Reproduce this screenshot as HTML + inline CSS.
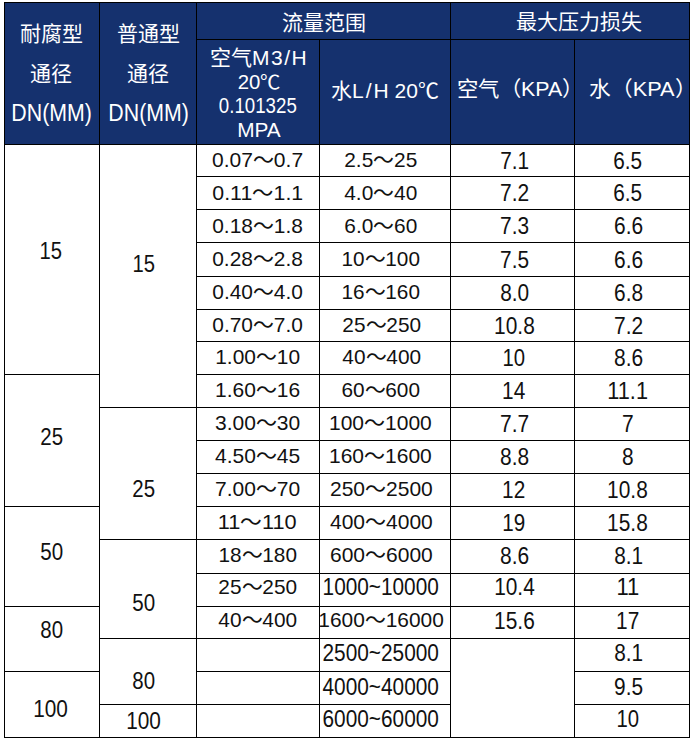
<!DOCTYPE html>
<html lang="zh-CN"><head><meta charset="utf-8"><title>流量范围</title><style>
html,body{margin:0;padding:0;background:#fff;width:694px;height:743px;overflow:hidden}
body{position:relative;font-family:"Liberation Sans",sans-serif}
div{position:absolute}
.t{position:absolute;white-space:nowrap}
</style></head><body>
<div style="left:4px;top:2px;width:686px;height:143px;background:#15316e"></div>
<div style="left:4px;top:2px;width:686px;height:1px;background:#000"></div>
<div style="left:196px;top:39px;width:494px;height:1px;background:#000"></div>
<div style="left:4px;top:2px;width:1px;height:736px;background:#000"></div>
<div style="left:689px;top:2px;width:1px;height:736px;background:#000"></div>
<div style="left:99px;top:2px;width:1px;height:736px;background:#000"></div>
<div style="left:196px;top:2px;width:1px;height:736px;background:#000"></div>
<div style="left:319px;top:39px;width:1px;height:699px;background:#000"></div>
<div style="left:450px;top:2px;width:1px;height:736px;background:#000"></div>
<div style="left:574px;top:39px;width:1px;height:699px;background:#000"></div>
<div style="left:4px;top:144px;width:686px;height:1px;background:#000"></div>
<div style="left:196px;top:176px;width:255px;height:1px;background:#000"></div>
<div style="left:450px;top:176px;width:125px;height:1px;background:#000"></div>
<div style="left:574px;top:176px;width:116px;height:1px;background:#000"></div>
<div style="left:196px;top:209px;width:255px;height:1px;background:#000"></div>
<div style="left:450px;top:209px;width:125px;height:1px;background:#000"></div>
<div style="left:574px;top:209px;width:116px;height:1px;background:#000"></div>
<div style="left:196px;top:242px;width:255px;height:1px;background:#000"></div>
<div style="left:450px;top:242px;width:125px;height:1px;background:#000"></div>
<div style="left:574px;top:242px;width:116px;height:1px;background:#000"></div>
<div style="left:196px;top:276px;width:255px;height:1px;background:#000"></div>
<div style="left:450px;top:276px;width:125px;height:1px;background:#000"></div>
<div style="left:574px;top:276px;width:116px;height:1px;background:#000"></div>
<div style="left:196px;top:309px;width:255px;height:1px;background:#000"></div>
<div style="left:450px;top:309px;width:125px;height:1px;background:#000"></div>
<div style="left:574px;top:309px;width:116px;height:1px;background:#000"></div>
<div style="left:196px;top:341px;width:255px;height:1px;background:#000"></div>
<div style="left:450px;top:341px;width:125px;height:1px;background:#000"></div>
<div style="left:574px;top:341px;width:116px;height:1px;background:#000"></div>
<div style="left:4px;top:374px;width:96px;height:1px;background:#000"></div>
<div style="left:196px;top:374px;width:255px;height:1px;background:#000"></div>
<div style="left:450px;top:374px;width:125px;height:1px;background:#000"></div>
<div style="left:574px;top:374px;width:116px;height:1px;background:#000"></div>
<div style="left:99px;top:407px;width:98px;height:1px;background:#000"></div>
<div style="left:196px;top:407px;width:255px;height:1px;background:#000"></div>
<div style="left:450px;top:407px;width:125px;height:1px;background:#000"></div>
<div style="left:574px;top:407px;width:116px;height:1px;background:#000"></div>
<div style="left:196px;top:440px;width:255px;height:1px;background:#000"></div>
<div style="left:450px;top:440px;width:125px;height:1px;background:#000"></div>
<div style="left:574px;top:440px;width:116px;height:1px;background:#000"></div>
<div style="left:196px;top:473px;width:255px;height:1px;background:#000"></div>
<div style="left:450px;top:473px;width:125px;height:1px;background:#000"></div>
<div style="left:574px;top:473px;width:116px;height:1px;background:#000"></div>
<div style="left:4px;top:506px;width:96px;height:1px;background:#000"></div>
<div style="left:196px;top:506px;width:255px;height:1px;background:#000"></div>
<div style="left:450px;top:506px;width:125px;height:1px;background:#000"></div>
<div style="left:574px;top:506px;width:116px;height:1px;background:#000"></div>
<div style="left:99px;top:539px;width:98px;height:1px;background:#000"></div>
<div style="left:196px;top:539px;width:255px;height:1px;background:#000"></div>
<div style="left:450px;top:539px;width:125px;height:1px;background:#000"></div>
<div style="left:574px;top:539px;width:116px;height:1px;background:#000"></div>
<div style="left:196px;top:573px;width:255px;height:1px;background:#000"></div>
<div style="left:450px;top:573px;width:125px;height:1px;background:#000"></div>
<div style="left:574px;top:573px;width:116px;height:1px;background:#000"></div>
<div style="left:4px;top:606px;width:96px;height:1px;background:#000"></div>
<div style="left:196px;top:606px;width:255px;height:1px;background:#000"></div>
<div style="left:450px;top:606px;width:125px;height:1px;background:#000"></div>
<div style="left:574px;top:606px;width:116px;height:1px;background:#000"></div>
<div style="left:99px;top:638px;width:98px;height:1px;background:#000"></div>
<div style="left:196px;top:638px;width:255px;height:1px;background:#000"></div>
<div style="left:450px;top:638px;width:125px;height:1px;background:#000"></div>
<div style="left:574px;top:638px;width:116px;height:1px;background:#000"></div>
<div style="left:4px;top:671px;width:96px;height:1px;background:#000"></div>
<div style="left:196px;top:671px;width:255px;height:1px;background:#000"></div>
<div style="left:574px;top:671px;width:116px;height:1px;background:#000"></div>
<div style="left:99px;top:704px;width:98px;height:1px;background:#000"></div>
<div style="left:196px;top:704px;width:255px;height:1px;background:#000"></div>
<div style="left:574px;top:704px;width:116px;height:1px;background:#000"></div>
<div style="left:4px;top:737px;width:686px;height:1px;background:#000"></div>
<span class="t" style="left:212px;top:145px;color:#111;font-size:21px;line-height:30px">0.07～0.7</span>
<span class="t" style="left:344px;top:145px;color:#111;font-size:21px;line-height:30px;transform:scale(0.993,1.000)">2.5～25</span>
<span class="t" style="left:500px;top:146px;color:#111;font-size:21px;line-height:30px;transform:scale(0.991,1.143)">7.1</span>
<span class="t" style="left:613px;top:146px;color:#111;font-size:21px;line-height:30px;transform:scale(0.990,1.143)">6.5</span>
<span class="t" style="left:213px;top:178px;color:#111;font-size:21px;line-height:30px;transform:scale(1.015,1.000)">0.11～1.1</span>
<span class="t" style="left:344px;top:178px;color:#111;font-size:21px;line-height:30px;transform:scale(0.993,1.000)">4.0～40</span>
<span class="t" style="left:500px;top:178px;color:#111;font-size:21px;line-height:30px;transform:scale(1.000,1.143)">7.2</span>
<span class="t" style="left:613px;top:178px;color:#111;font-size:21px;line-height:30px;transform:scale(0.990,1.143)">6.5</span>
<span class="t" style="left:212px;top:211px;color:#111;font-size:21px;line-height:30px;transform:scale(0.996,1.000)">0.18～1.8</span>
<span class="t" style="left:344px;top:211px;color:#111;font-size:21px;line-height:30px;transform:scale(0.992,1.000)">6.0～60</span>
<span class="t" style="left:500px;top:211px;color:#111;font-size:21px;line-height:30px;transform:scale(0.993,1.143)">7.3</span>
<span class="t" style="left:614px;top:211px;color:#111;font-size:21px;line-height:30px;transform:scale(0.997,1.143)">6.6</span>
<span class="t" style="left:212px;top:244px;color:#111;font-size:21px;line-height:30px;transform:scale(0.996,1.000)">0.28～2.8</span>
<span class="t" style="left:341px;top:244px;color:#111;font-size:21px;line-height:30px;transform:scale(0.988,1.000)">10～100</span>
<span class="t" style="left:500px;top:245px;color:#111;font-size:21px;line-height:30px;transform:scale(0.992,1.143)">7.5</span>
<span class="t" style="left:614px;top:245px;color:#111;font-size:21px;line-height:30px;transform:scale(0.997,1.143)">6.6</span>
<span class="t" style="left:212px;top:277px;color:#111;font-size:21px;line-height:30px;transform:scale(0.994,1.000)">0.40～4.0</span>
<span class="t" style="left:341px;top:277px;color:#111;font-size:21px;line-height:30px;transform:scale(0.988,1.000)">16～160</span>
<span class="t" style="left:500px;top:278px;color:#111;font-size:21px;line-height:30px;transform:scale(0.991,1.143)">8.0</span>
<span class="t" style="left:614px;top:278px;color:#111;font-size:21px;line-height:30px;transform:scale(0.995,1.143)">6.8</span>
<span class="t" style="left:212px;top:310px;color:#111;font-size:21px;line-height:30px;transform:scale(0.994,1.000)">0.70～7.0</span>
<span class="t" style="left:342px;top:310px;color:#111;font-size:21px;line-height:30px;transform:scale(0.991,1.000)">25～250</span>
<span class="t" style="left:494px;top:311px;color:#111;font-size:21px;line-height:30px;transform:scale(0.994,1.143)">10.8</span>
<span class="t" style="left:614px;top:311px;color:#111;font-size:21px;line-height:30px;transform:scale(1.000,1.143)">7.2</span>
<span class="t" style="left:215px;top:342px;color:#111;font-size:21px;line-height:30px;transform:scale(0.995,1.000)">1.00～10</span>
<span class="t" style="left:342px;top:342px;color:#111;font-size:21px;line-height:30px;transform:scale(0.991,1.000)">40～400</span>
<span class="t" style="left:502px;top:343px;color:#111;font-size:21px;line-height:30px;transform:scale(0.966,1.143)">10</span>
<span class="t" style="left:614px;top:343px;color:#111;font-size:21px;line-height:30px;transform:scale(0.999,1.143)">8.6</span>
<span class="t" style="left:215px;top:375px;color:#111;font-size:21px;line-height:30px">1.60～16</span>
<span class="t" style="left:341px;top:375px;color:#111;font-size:21px;line-height:30px;transform:scale(0.990,1.000)">60～600</span>
<span class="t" style="left:502px;top:376px;color:#111;font-size:21px;line-height:30px;transform:scale(0.991,1.143)">14</span>
<span class="t" style="left:608px;top:376px;color:#111;font-size:21px;line-height:30px;transform:scale(1.034,1.143)">11.1</span>
<span class="t" style="left:215px;top:408px;color:#111;font-size:21px;line-height:30px">3.00～30</span>
<span class="t" style="left:329px;top:408px;color:#111;font-size:21px;line-height:30px">100～1000</span>
<span class="t" style="left:500px;top:409px;color:#111;font-size:21px;line-height:30px;transform:scale(1.002,1.143)">7.7</span>
<span class="t" style="left:622px;top:409px;color:#111;font-size:21px;line-height:30px;transform:scale(1.001,1.143)">7</span>
<span class="t" style="left:215px;top:441px;color:#111;font-size:21px;line-height:30px">4.50～45</span>
<span class="t" style="left:329px;top:441px;color:#111;font-size:21px;line-height:30px">160～1600</span>
<span class="t" style="left:500px;top:442px;color:#111;font-size:21px;line-height:30px;transform:scale(0.996,1.143)">8.8</span>
<span class="t" style="left:622px;top:442px;color:#111;font-size:21px;line-height:30px;transform:scale(0.994,1.143)">8</span>
<span class="t" style="left:215px;top:474px;color:#111;font-size:21px;line-height:30px">7.00～70</span>
<span class="t" style="left:330px;top:474px;color:#111;font-size:21px;line-height:30px">250～2500</span>
<span class="t" style="left:502px;top:475px;color:#111;font-size:21px;line-height:30px;transform:scale(0.990,1.143)">12</span>
<span class="t" style="left:607px;top:475px;color:#111;font-size:21px;line-height:30px;transform:scale(0.994,1.143)">10.8</span>
<span class="t" style="left:219px;top:507px;color:#111;font-size:21px;line-height:30px;transform:scale(1.035,1.000)">11～110</span>
<span class="t" style="left:330px;top:507px;color:#111;font-size:21px;line-height:30px">400～4000</span>
<span class="t" style="left:502px;top:508px;color:#111;font-size:21px;line-height:30px;transform:scale(0.982,1.143)">19</span>
<span class="t" style="left:607px;top:508px;color:#111;font-size:21px;line-height:30px;transform:scale(0.994,1.143)">15.8</span>
<span class="t" style="left:218px;top:540px;color:#111;font-size:21px;line-height:30px;transform:scale(0.988,1.000)">18～180</span>
<span class="t" style="left:330px;top:540px;color:#111;font-size:21px;line-height:30px">600～6000</span>
<span class="t" style="left:500px;top:541px;color:#111;font-size:21px;line-height:30px;transform:scale(0.999,1.143)">8.6</span>
<span class="t" style="left:614px;top:541px;color:#111;font-size:21px;line-height:30px;transform:scale(0.990,1.143)">8.1</span>
<span class="t" style="left:218px;top:572px;color:#111;font-size:21px;line-height:30px;transform:scale(0.991,1.000)">25～250</span>
<span class="t" style="left:322px;top:572px;color:#111;font-size:21px;line-height:30px;transform:scale(0.990,1.143)">1000~10000</span>
<span class="t" style="left:494px;top:572px;color:#111;font-size:21px;line-height:30px;transform:scale(0.993,1.143)">10.4</span>
<span class="t" style="left:617px;top:572px;color:#111;font-size:21px;line-height:30px;transform:scale(1.050,1.143)">11</span>
<span class="t" style="left:218px;top:605px;color:#111;font-size:21px;line-height:30px;transform:scale(0.991,1.000)">40～400</span>
<span class="t" style="left:318px;top:605px;color:#111;font-size:21px;line-height:30px;transform:scale(0.995,1.000)">1600～16000</span>
<span class="t" style="left:494px;top:606px;color:#111;font-size:21px;line-height:30px;transform:scale(0.995,1.143)">15.6</span>
<span class="t" style="left:616px;top:606px;color:#111;font-size:21px;line-height:30px;transform:scale(0.992,1.143)">17</span>
<span class="t" style="left:322px;top:638px;color:#111;font-size:21px;line-height:30px;transform:scale(0.992,1.143)">2500~25000</span>
<span class="t" style="left:614px;top:638px;color:#111;font-size:21px;line-height:30px;transform:scale(0.990,1.143)">8.1</span>
<span class="t" style="left:322px;top:672px;color:#111;font-size:21px;line-height:30px;transform:scale(0.992,1.143)">4000~40000</span>
<span class="t" style="left:614px;top:672px;color:#111;font-size:21px;line-height:30px;transform:scale(0.993,1.143)">9.5</span>
<span class="t" style="left:322px;top:704px;color:#111;font-size:21px;line-height:30px;transform:scale(0.991,1.143)">6000~60000</span>
<span class="t" style="left:616px;top:704px;color:#111;font-size:21px;line-height:30px;transform:scale(0.966,1.143)">10</span>
<span class="t" style="left:39px;top:236px;color:#111;font-size:21px;line-height:30px;transform:scale(0.962,1.143)">15</span>
<span class="t" style="left:40px;top:422px;color:#111;font-size:21px;line-height:30px;transform:scale(0.976,1.143)">25</span>
<span class="t" style="left:40px;top:537px;color:#111;font-size:21px;line-height:30px;transform:scale(0.979,1.143)">50</span>
<span class="t" style="left:40px;top:615px;color:#111;font-size:21px;line-height:30px;transform:scale(0.974,1.143)">80</span>
<span class="t" style="left:33px;top:694px;color:#111;font-size:21px;line-height:30px;transform:scale(0.990,1.143)">100</span>
<span class="t" style="left:132px;top:249px;color:#111;font-size:21px;line-height:30px;transform:scale(0.962,1.143)">15</span>
<span class="t" style="left:132px;top:474px;color:#111;font-size:21px;line-height:30px;transform:scale(0.976,1.143)">25</span>
<span class="t" style="left:132px;top:588px;color:#111;font-size:21px;line-height:30px;transform:scale(0.979,1.143)">50</span>
<span class="t" style="left:132px;top:666px;color:#111;font-size:21px;line-height:30px;transform:scale(0.974,1.143)">80</span>
<span class="t" style="left:126px;top:706px;color:#111;font-size:21px;line-height:30px;transform:scale(0.990,1.143)">100</span>
<span class="t" style="left:20px;top:19px;color:#fff;font-size:21px;line-height:30px">耐腐型</span>
<span class="t" style="left:30px;top:59px;color:#fff;font-size:21px;line-height:30px">通径</span>
<span class="t" style="left:12px;top:98px;color:#fff;font-size:21px;line-height:30px;transform:scale(1.016,1.099)">DN(MM)</span>
<span class="t" style="left:117px;top:19px;color:#fff;font-size:21px;line-height:30px">普通型</span>
<span class="t" style="left:127px;top:59px;color:#fff;font-size:21px;line-height:30px">通径</span>
<span class="t" style="left:109px;top:98px;color:#fff;font-size:21px;line-height:30px;transform:scale(1.016,1.099)">DN(MM)</span>
<span class="t" style="left:282px;top:8px;color:#fff;font-size:21px;line-height:30px">流量范围</span>
<span class="t" style="left:516px;top:7px;color:#fff;font-size:21px;line-height:30px">最大压力损失</span>
<span class="t" style="left:210px;top:43px;color:#fff;font-size:21px;line-height:30px">空气<span style="letter-spacing:1.5px">M3/</span>H</span>
<span class="t" style="left:237px;top:67px;color:#fff;font-size:21px;line-height:30px;transform:scale(0.969,0.929)">20℃</span>
<span class="t" style="left:214px;top:91px;color:#fff;font-size:21px;line-height:30px;transform:scale(0.891,1.043)">0.101325</span>
<span class="t" style="left:237px;top:115px;color:#fff;font-size:21px;line-height:30px;transform:scale(0.991,0.964)">MPA</span>
<span class="t" style="left:331px;top:76px;color:#fff;font-size:21px;line-height:30px">水<span style="letter-spacing:2px">L/</span>H 20℃</span>
<span class="t" style="left:458px;top:74px;color:#fff;font-size:21px;line-height:30px;transform:scale(1.017,1.000)">空气（KPA）</span>
<span class="t" style="left:591px;top:74px;color:#fff;font-size:21px;line-height:30px;transform:scale(1.034,1.000)">水（KPA）</span>
</body></html>
